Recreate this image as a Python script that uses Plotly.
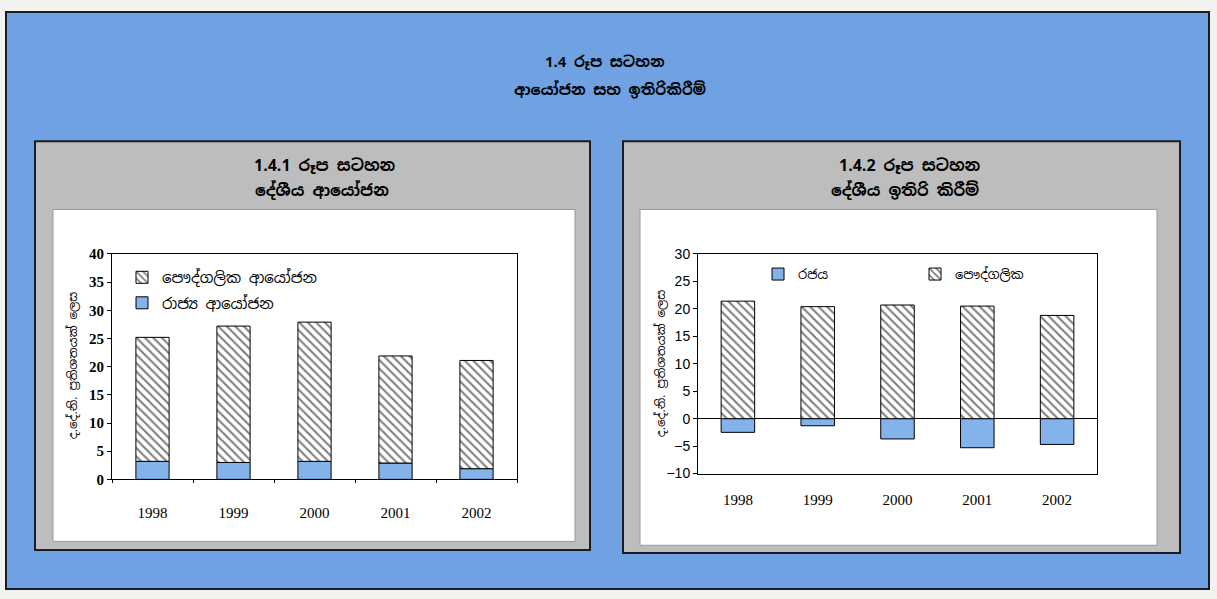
import plotly.graph_objects as go

# ---------------- data ----------------
years = ["1998", "1999", "2000", "2001", "2002"]

# 1.4.1 Domestic investment (% of GDP)
inv_state = [3.2, 3.0, 3.2, 2.9, 1.9]
inv_private = [22.0, 24.2, 24.7, 19.0, 19.2]

# 1.4.2 Domestic savings (% of GDP)
sav_state = [-2.5, -1.3, -3.7, -5.3, -4.7]
sav_private = [21.4, 20.4, 20.7, 20.5, 18.8]

main_title_1 = "1.4 රූප සටහන"
main_title_2 = "ආයෝජන සහ ඉතිරිකිරීම්"
left_title_1 = "1.4.1 රූප සටහන"
left_title_2 = "දේශීය ආයෝජන"
right_title_1 = "1.4.2 රූප සටහන"
right_title_2 = "දේශීය ඉතිරි කිරීම්"
y_title = "ද.දේ.නි. ප්‍රතිශතයක් ලෙස"
left_names = ["රාජ්‍ය ආයෝජන", "පෞද්ගලික ආයෝජන"]
right_names = ["රජය", "පෞද්ගලික"]

# ---------------- style ----------------
W, H = 1217, 599
BLUE = "#70a2e3"
GRAY = "#bdbdbd"
BAR_BLUE = "#84b3ec"
DARK = "#1c1c24"
SIN = "Noto Sans Sinhala, Iskoola Pota, LKLUG, sans-serif"
SERIF = "Liberation Serif, Times New Roman, serif"
SANS = "Liberation Sans, Arial, sans-serif"


def px(x):
    return x / W


def py(y):
    return 1 - y / H


hatch = dict(shape="\\", fgcolor="black", bgcolor="white", size=6, solidity=0.35)

fig = go.Figure()

# left chart
fig.add_trace(go.Bar(x=years, y=inv_state, name=left_names[0], xaxis="x", yaxis="y",
                     marker=dict(color=BAR_BLUE, line=dict(color="black", width=1)),
                     width=0.41, legend="legend", legendgroup="a", legendrank=2))
fig.add_trace(go.Bar(x=years, y=inv_private, name=left_names[1], xaxis="x", yaxis="y",
                     marker=dict(color="white", pattern=hatch, line=dict(color="black", width=1)),
                     width=0.41, legend="legend", legendgroup="b", legendrank=1))

# right chart
fig.add_trace(go.Bar(x=years, y=sav_state, name=right_names[0], xaxis="x2", yaxis="y2",
                     marker=dict(color=BAR_BLUE, line=dict(color="black", width=1)),
                     width=0.42, legend="legend2"))
fig.add_trace(go.Bar(x=years, y=sav_private, name=right_names[1], xaxis="x2", yaxis="y2",
                     marker=dict(color="white", pattern=hatch, line=dict(color="black", width=1)),
                     width=0.42, legend="legend2"))

shapes = [
    # outer blue frame
    dict(type="rect", xref="paper", yref="paper", x0=px(6), x1=px(1209), y0=py(597), y1=py(4),
         fillcolor=BLUE, line=dict(color=DARK, width=2), layer="below"),
    # left gray panel
    dict(type="rect", xref="paper", yref="paper", x0=px(35), x1=px(590), y0=py(557), y1=py(137),
         fillcolor=GRAY, line=dict(color=DARK, width=2), layer="below"),
    dict(type="rect", xref="paper", yref="paper", x0=px(53), x1=px(575), y0=py(548), y1=py(207),
         fillcolor="white", line=dict(color="#9a9a9a", width=1), layer="below"),
    # right gray panel
    dict(type="rect", xref="paper", yref="paper", x0=px(623), x1=px(1180), y0=py(560), y1=py(137),
         fillcolor=GRAY, line=dict(color=DARK, width=2), layer="below"),
    dict(type="rect", xref="paper", yref="paper", x0=px(640), x1=px(1157), y0=py(552), y1=py(207),
         fillcolor="white", line=dict(color="#9a9a9a", width=1), layer="below"),
]


def label(text, x, y, size, angle=0, bold=True):
    return dict(text=f"<b>{text}</b>" if bold else text, x=px(x), y=py(y),
                xref="paper", yref="paper", xanchor="center", yanchor="middle",
                showarrow=False, textangle=angle,
                font=dict(family=SIN, size=size, color="black"))


annotations = [
    label(main_title_1, 605, 55, 15),
    label(main_title_2, 610, 84, 15),
    label(left_title_1, 325, 162, 16),
    label(left_title_2, 322, 187, 16),
    label(right_title_1, 910, 162, 16),
    label(right_title_2, 905, 187, 16),
    label(y_title, 73, 368, 12, angle=-90, bold=False),
    label(y_title, 661, 366, 12, angle=-90, bold=False),
]

axis_common = dict(showline=True, linecolor="black", linewidth=1, mirror=True,
                   showgrid=False, zeroline=False)

fig.update_layout(
    width=W, height=H,
    margin=dict(l=0, r=0, t=0, b=0),
    paper_bgcolor="#f2f2ee",
    plot_bgcolor="rgba(0,0,0,0)",
    barmode="relative",
    bargap=0.5,
    shapes=shapes,
    annotations=annotations,
    xaxis=dict(domain=[px(112), px(517)], anchor="y", type="category",
               ticks="outside", ticklen=3, tickson="boundaries", tickcolor="black",
               tickfont=dict(family=SERIF, size=15, color="black"),
               ticklabelstandoff=20, **axis_common),
    yaxis=dict(domain=[py(484.3), py(252.7)], anchor="x", range=[0, 40], dtick=5,
               ticks="outside", ticklen=4, tickcolor="black",
               tickfont=dict(family=SERIF, size=15, color="black", weight="bold"),
               **axis_common),
    xaxis2=dict(domain=[px(698), px(1097)], anchor="y2", type="category",
                ticks="", tickfont=dict(family=SERIF, size=15, color="black"),
                ticklabelstandoff=12, **axis_common),
    yaxis2=dict(domain=[py(478.3), py(252.7)], anchor="x2", range=[-10, 30], dtick=5,
                ticks="outside", ticklen=4, tickcolor="black",
                tickfont=dict(family=SANS, size=14, color="black"),
                **{**axis_common, "zeroline": True}, zerolinecolor="black", zerolinewidth=1),
    legend=dict(x=px(122), y=py(260), xanchor="left", yanchor="top", traceorder="grouped",
                tracegroupgap=3, bgcolor="rgba(0,0,0,0)",
                font=dict(family=SIN, size=15, color="black")),
    legend2=dict(x=px(758), y=py(258), xanchor="left", yanchor="top", orientation="h",
                 traceorder="normal", entrywidth=112, entrywidthmode="pixels",
                 bgcolor="rgba(0,0,0,0)",
                 font=dict(family=SIN, size=13, color="black")),
    showlegend=True,
)

fig.write_html("out.html")
